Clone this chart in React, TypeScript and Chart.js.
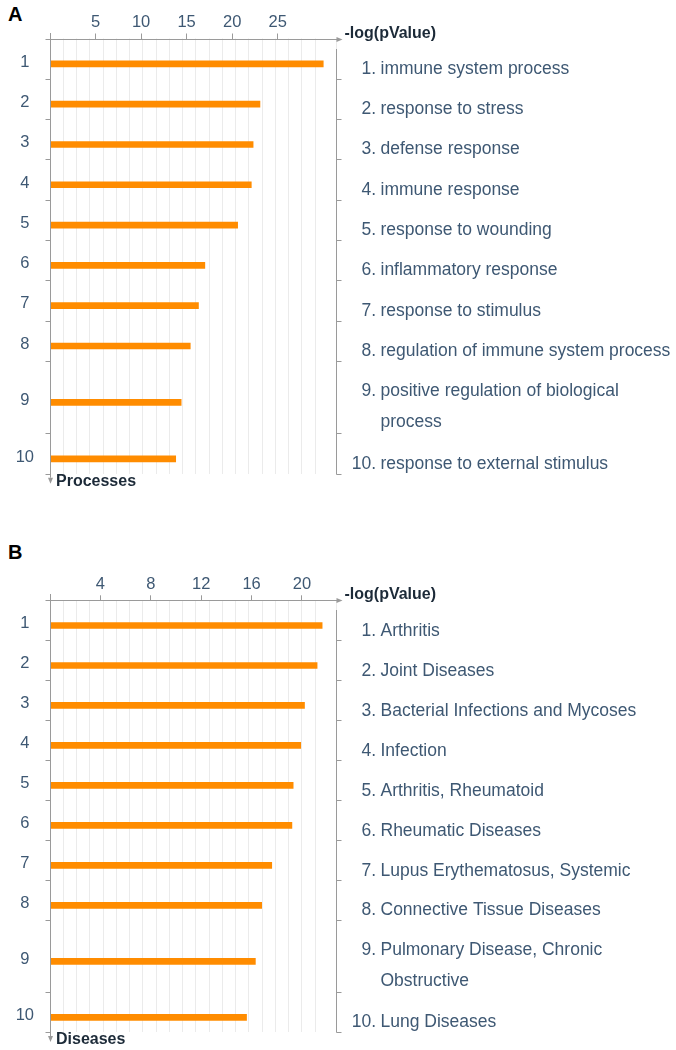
import React, { useEffect, useRef } from "react";
import { Chart, registerables } from "chart.js";

Chart.register(...registerables);

// ---------- data ----------
const ROW_NUMBERS = ["1", "2", "3", "4", "5", "6", "7", "8", "9", "10"];

const PROCESS_VALUES = [30.0, 23.05, 22.3, 22.1, 20.6, 17.0, 16.3, 15.4, 14.4, 13.8];
const PROCESS_LABELS: string[][] = [
  ["immune system process"],
  ["response to stress"],
  ["defense response"],
  ["immune response"],
  ["response to wounding"],
  ["inflammatory response"],
  ["response to stimulus"],
  ["regulation of immune system process"],
  ["positive regulation of biological", "process"],
  ["response to external stimulus"],
];
const PROCESS_TICKS = [5, 10, 15, 20, 25];
const PROCESS_X_MAX = 31.4;

const DISEASE_VALUES = [21.6, 21.2, 20.2, 19.9, 19.3, 19.2, 17.6, 16.8, 16.3, 15.6];
const DISEASE_LABELS: string[][] = [
  ["Arthritis"],
  ["Joint Diseases"],
  ["Bacterial Infections and Mycoses"],
  ["Infection"],
  ["Arthritis, Rheumatoid"],
  ["Rheumatic Diseases"],
  ["Lupus Erythematosus, Systemic"],
  ["Connective Tissue Diseases"],
  ["Pulmonary Disease, Chronic", "Obstructive"],
  ["Lung Diseases"],
];
const DISEASE_TICKS = [4, 8, 12, 16, 20];
const DISEASE_X_MAX = 22.7;

const X_TITLE = "-log(pValue)";

// ---------- style / layout ----------
const FAMILY = "'Liberation Sans', Arial, Helvetica, sans-serif";
const ORANGE = "#ff8c00";
const AXIS_GRAY = "#9a9a9a";
const GRID_COLOR = "#ebebeb";
const TEXT = "#3e5873";
const TITLE = "#1c2a38";
const W = 676;
const ROW_PX = 40.3;
const EXTRA_LINE = 0.8;
const BAR_SHIFT = 0.13;
const X_AXIS_H = 30;
const Y_AXIS_W = 50;
const RIGHT_PAD = 340;
const GRID_PX = 13.25;
const LABEL_DX = 44;
const LABEL_FIRST = 30.5;
const LABEL_LINE = 31;
const TICK_FONT = 16.5;
const LABEL_FONT = 17.5;

type PanelProps = {
  values: number[];
  labels: string[][];
  ticks: number[];
  xMax: number;
  yTitle: string;
  top: number;
  height: number;
  axisTop: number;
};

function Panel({ values, labels, ticks, xMax, yTitle, top, height, axisTop }: PanelProps) {
  const ref = useRef<HTMLCanvasElement>(null);

  useEffect(() => {
    if (!ref.current) return;
    const spans = labels.map((l) => 1 + EXTRA_LINE * (l.length - 1));
    const starts: number[] = [];
    let acc = 0;
    spans.forEach((s) => {
      starts.push(acc);
      acc += s;
    });
    const total = acc;
    const centers = starts.map((s, i) => s + spans[i] / 2);
    const boundaries = starts.slice(1).concat([total]);
    const plotH = total * ROW_PX;
    const plotW = W - RIGHT_PAD - Y_AXIS_W;
    const gridMax = plotW / GRID_PX;

    const decor = {
      id: "decor",
      afterDraw(chart: any) {
        const { ctx, chartArea: a } = chart;
        const ys = chart.scales.y;
        const L = Math.round(a.left) + 0.5;
        const T = Math.round(a.top) + 0.5;
        const R = Math.round(a.right) + 0.5;
        const B = a.bottom;
        ctx.save();
        ctx.strokeStyle = AXIS_GRAY;
        ctx.fillStyle = AXIS_GRAY;
        ctx.lineWidth = 1;
        const line = (x1: number, y1: number, x2: number, y2: number) => {
          ctx.beginPath();
          ctx.moveTo(x1, y1);
          ctx.lineTo(x2, y2);
          ctx.stroke();
        };
        // top axis with arrow
        line(L - 5, T, R + 1, T);
        ctx.beginPath();
        ctx.moveTo(R + 6, T);
        ctx.lineTo(R, T - 2.5);
        ctx.lineTo(R, T + 2.5);
        ctx.closePath();
        ctx.fill();
        // left axis with arrow
        line(L, T - 6.5, L, B + 4);
        ctx.beginPath();
        ctx.moveTo(L - 2.5, B + 4);
        ctx.lineTo(L + 2.5, B + 4);
        ctx.lineTo(L, B + 10);
        ctx.closePath();
        ctx.fill();
        // right bracket line
        line(R, T + 9.5, R, Math.round(B) + 0.5);
        // row separators
        boundaries.forEach((b) => {
          const py = Math.round(ys.getPixelForValue(b)) + 0.5;
          line(L - 5, py, L, py);
          line(R, py, R + 5, py);
        });
        // titles
        ctx.fillStyle = TITLE;
        ctx.font = `bold 16px ${FAMILY}`;
        ctx.textBaseline = "middle";
        ctx.textAlign = "left";
        ctx.fillText(X_TITLE, R + 8, T - 6);
        ctx.fillText(yTitle, L + 5.5, B + 7.5);
        // right-hand labels
        ctx.font = `${LABEL_FONT}px ${FAMILY}`;
        ctx.fillStyle = TEXT;
        const lx = R + LABEL_DX;
        labels.forEach((lines, i) => {
          const rowTop = ys.getPixelForValue(starts[i]);
          lines.forEach((ln, j) => {
            const y = rowTop + LABEL_FIRST + j * LABEL_LINE;
            if (j === 0) {
              ctx.textAlign = "right";
              ctx.fillText(`${ROW_NUMBERS[i]}.`, lx - 4.5, y);
            }
            ctx.textAlign = "left";
            ctx.fillText(ln, lx, y);
          });
        });
        ctx.restore();
      },
    };

    const chart = new Chart(ref.current, {
      type: "bar",
      data: {
        datasets: [
          {
            data: values.map((v, i) => ({ x: v, y: centers[i] + BAR_SHIFT })),
            backgroundColor: ORANGE,
            borderWidth: 0,
            barThickness: 6,
          } as any,
        ],
      },
      options: {
        responsive: false,
        animation: false,
        indexAxis: "y",
        layout: {
          padding: {
            top: axisTop - X_AXIS_H,
            bottom: height - axisTop - plotH,
            left: 0,
            right: RIGHT_PAD,
          },
        },
        plugins: { legend: { display: false }, tooltip: { enabled: false } },
        scales: {
          x: {
            type: "linear",
            position: "top",
            min: 0,
            max: xMax,
            bounds: "data",
            afterBuildTicks: (s: any) => {
              s.ticks = ticks.map((v) => ({ value: v }));
            },
            afterFit: (s: any) => {
              s.height = X_AXIS_H;
            },
            ticks: {
              font: { family: FAMILY, size: TICK_FONT },
              color: TEXT,
              padding: 1,
              maxRotation: 0,
              autoSkip: false,
            },
            grid: {
              display: true,
              drawOnChartArea: false,
              drawTicks: true,
              tickLength: 5,
              color: AXIS_GRAY,
            },
            border: { display: false },
          },
          xg: {
            type: "linear",
            axis: "x",
            position: "bottom",
            min: 0,
            max: gridMax,
            bounds: "data",
            afterFit: (s: any) => {
              s.height = 0;
            },
            ticks: { display: false, stepSize: 1 },
            grid: { color: GRID_COLOR, drawTicks: false },
            border: { display: false },
          },
          y: {
            type: "linear",
            reverse: true,
            min: 0,
            max: total,
            bounds: "data",
            offset: false,
            afterBuildTicks: (s: any) => {
              s.ticks = centers.map((v) => ({ value: v }));
            },
            afterFit: (s: any) => {
              s.width = Y_AXIS_W;
            },
            ticks: {
              callback: (_v: any, i: number) => ROW_NUMBERS[i],
              crossAlign: "center",
              padding: 8,
              labelOffset: 3.5,
              font: { family: FAMILY, size: TICK_FONT },
              color: TEXT,
              autoSkip: false,
            },
            grid: { display: false },
            border: { display: false },
          },
        } as any,
      },
      plugins: [decor],
    });
    return () => chart.destroy();
  }, []);

  return (
    <canvas
      ref={ref}
      width={W}
      height={height}
      style={{ position: "absolute", left: 0, top, width: W, height, display: "block" }}
    />
  );
}

const letterStyle = (top: number): React.CSSProperties => ({
  position: "absolute",
  left: 8,
  top,
  fontFamily: FAMILY,
  fontWeight: "bold",
  fontSize: 20,
  lineHeight: 1,
  color: "#000",
});

export default function App() {
  return (
    <div
      style={{
        position: "absolute",
        left: 0,
        top: 0,
        width: W,
        height: 1050,
        background: "#fff",
        overflow: "hidden",
      }}
    >
      <div style={letterStyle(4.4)}>A</div>
      <Panel
        values={PROCESS_VALUES}
        labels={PROCESS_LABELS}
        ticks={PROCESS_TICKS}
        xMax={PROCESS_X_MAX}
        yTitle="Processes"
        top={0}
        height={523}
        axisTop={38.5}
      />
      <div style={letterStyle(542.4)}>B</div>
      <Panel
        values={DISEASE_VALUES}
        labels={DISEASE_LABELS}
        ticks={DISEASE_TICKS}
        xMax={DISEASE_X_MAX}
        yTitle="Diseases"
        top={523}
        height={527}
        axisTop={77.3}
      />
    </div>
  );
}
